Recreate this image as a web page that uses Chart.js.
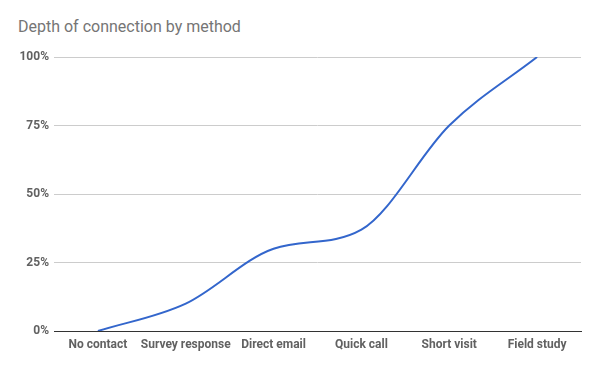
<!DOCTYPE html>
<html>
<head>
<meta charset="utf-8">
<script src="https://cdn.jsdelivr.net/npm/chart.js@4"></script>
<style>
  html, body { margin: 0; padding: 0; background: #fff; }
  #wrap { position: relative; width: 600px; height: 371px; }
  #title { position: absolute; left: 18px; top: 17px; font-family: Roboto, sans-serif; font-size: 16px; color: #757575; line-height: 20px; white-space: nowrap; }
  canvas { position: absolute; left: 0; top: 0; }
</style>
</head>
<body>
<div id="wrap">
  <div id="title">Depth of connection by method</div>
  <canvas id="c" width="600" height="371"></canvas>
</div>
<script>
const categories = ["No contact", "Survey response", "Direct email", "Quick call", "Short visit", "Field study"];
const depthValues = [0, 10, 30, 37, 75, 100];
const yTicks = [0, 25, 50, 75, 100];

const ctx = document.getElementById('c');
new Chart(ctx, {
  type: 'line',
  data: {
    labels: categories,
    datasets: [{
      label: 'Depth',
      data: depthValues,
      borderColor: '#3366cc',
      backgroundColor: '#3366cc',
      borderWidth: 2,
      pointRadius: 0,
      pointHoverRadius: 0,
      fill: false,
      cubicInterpolationMode: 'monotone'
    }]
  },
  options: {
    responsive: false,
    animation: false,
    devicePixelRatio: 1,
    layout: { padding: { left: 18, right: 19, top: 57, bottom: 0 } },
    plugins: { legend: { display: false }, title: { display: false }, tooltip: { enabled: false } },
    scales: {
      x: {
        offset: true,
        grid: { display: false, drawTicks: false },
        border: { display: true, color: '#333333', width: 1 },
        ticks: {
          padding: 7,
          maxRotation: 0,
          autoSkip: false,
          color: '#616161',
          font: { family: 'Roboto', size: 12, weight: 'bold' }
        },
        afterFit: (s) => { s.height = 40; }
      },
      y: {
        min: 0,
        max: 100,
        afterBuildTicks: (s) => { s.ticks = yTicks.map(v => ({ value: v })); },
        grid: {
          drawTicks: false,
          color: (c) => (c.tick && c.tick.value === 0) ? '#333333' : '#cccccc',
          lineWidth: 1
        },
        border: { display: false },
        ticks: {
          padding: 5,
          color: '#616161',
          font: { family: 'Roboto', size: 12, weight: 'bold' },
          callback: (v) => v + '%'
        },
        afterFit: (s) => { s.width = 36; }
      }
    }
  }
});
</script>
</body>
</html>
